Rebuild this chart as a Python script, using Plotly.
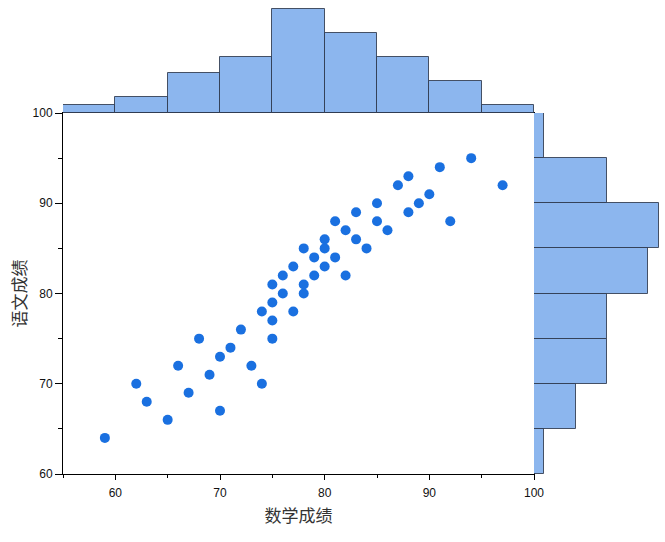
import plotly.graph_objects as go

# 数学成绩 (x) and 语文成绩 (y)
math_scores = [59, 62, 63, 65, 66, 67, 68, 69, 70, 70, 71, 72, 73, 74, 74,
               75, 75, 75, 75, 76, 76, 77, 77, 78, 78, 78, 79, 79, 80, 80, 80,
               81, 81, 82, 82, 83, 83, 84, 85, 85, 86, 87, 88, 88, 89, 90, 91,
               92, 94, 97]
chinese_scores = [64, 70, 68, 66, 72, 69, 75, 71, 73, 67, 74, 76, 72, 70, 78,
                  81, 79, 77, 75, 82, 80, 83, 78, 85, 81, 80, 84, 82, 86, 85, 83,
                  88, 84, 87, 82, 89, 86, 85, 90, 88, 87, 92, 93, 89, 90, 91, 94,
                  88, 95, 92]

x_ticks = [60, 70, 80, 90, 100]
y_ticks = [60, 70, 80, 90, 100]

point_color = "#1a70e0"
bar_color = "#8cb6ee"
bar_line = "rgba(45,55,75,0.85)"
text_color = "#333333"
tick_font = dict(family="Liberation Sans, Arial", size=12, color="#111111")
title_font = dict(family="Noto Sans CJK SC", size=17, color=text_color)

fig = go.Figure()

fig.add_trace(go.Scatter(
    x=math_scores, y=chinese_scores, mode="markers",
    marker=dict(color=point_color, size=10),
    xaxis="x", yaxis="y", showlegend=False, hoverinfo="x+y"))

fig.add_trace(go.Histogram(
    x=math_scores, xbins=dict(start=55, end=100, size=5),
    marker=dict(color=bar_color, line=dict(color=bar_line, width=1)),
    xaxis="x2", yaxis="y2", showlegend=False))

fig.add_trace(go.Histogram(
    y=chinese_scores, ybins=dict(start=60, end=100, size=5),
    marker=dict(color=bar_color, line=dict(color=bar_line, width=1)),
    xaxis="x3", yaxis="y3", showlegend=False))

xd = (534 - 63) / 602
yd = (474 - 113) / 474

axis_common = dict(showgrid=False, zeroline=False, linecolor="black",
                   linewidth=1, ticks="outside", tickcolor="black",
                   tickfont=tick_font, automargin=False)
hidden = dict(visible=False, automargin=False)

fig.update_layout(
    width=665, height=542,
    margin=dict(l=63, r=0, t=0, b=68, autoexpand=False),
    paper_bgcolor="white", plot_bgcolor="white",
    bargap=0,
    xaxis=dict(domain=[0, xd], range=[55, 100], tickvals=x_ticks,
               showline=True, mirror=True, ticklen=5, ticklabelstandoff=3,
               minor=dict(dtick=5, tick0=55, ticks="outside", ticklen=3,
                          tickcolor="black"),
               title=dict(text="数学成绩", font=title_font, standoff=10),
               **axis_common),
    yaxis=dict(domain=[0, yd], range=[60, 100], tickvals=y_ticks,
               showline=True, mirror=True, ticklen=7,
               minor=dict(dtick=5, tick0=60, ticks="outside", ticklen=4,
                          tickcolor="black"),
               title=dict(text="语文成绩", font=title_font, standoff=1),
               **axis_common),
    xaxis2=dict(domain=[0, xd], range=[55, 100], anchor="y2", **hidden),
    yaxis2=dict(domain=[yd, 1], range=[0, 14.125], anchor="x2", **hidden),
    xaxis3=dict(domain=[xd, 1], range=[0, 12.6], anchor="y3", **hidden),
    yaxis3=dict(domain=[0, yd], range=[60, 100], anchor="x3", **hidden),
)

fig.write_html(
    "out.html",
    config={"displayModeBar": False},
    post_script="document.body.style.margin='0';"
                "document.body.style.overflow='hidden';",
)
